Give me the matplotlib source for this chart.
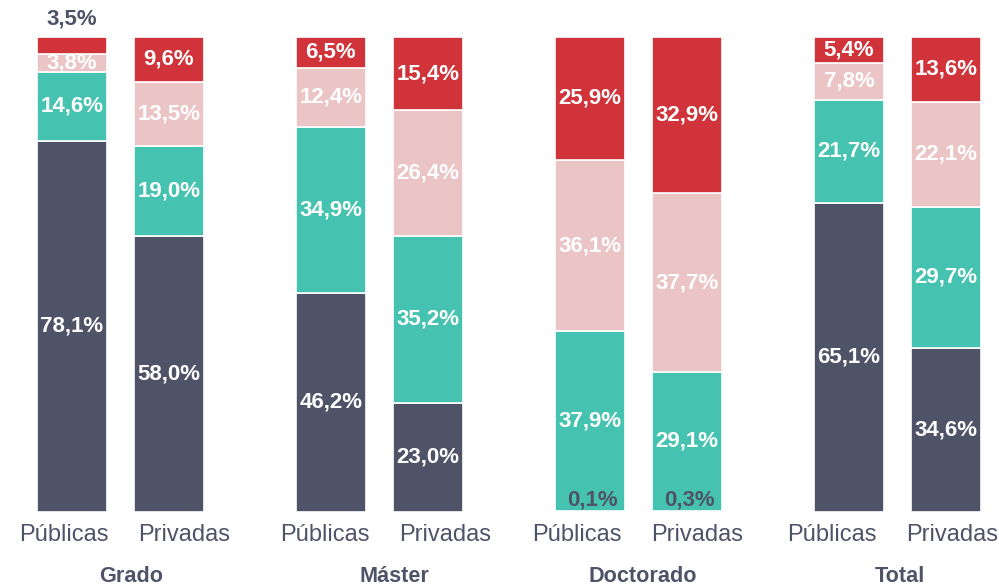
import matplotlib.pyplot as plt
import numpy as np

plt.rcParams['font.family'] = ['Liberation Sans', 'DejaVu Sans']

# data, bottom-to-top stack order
groups = ['Grado', 'Máster', 'Doctorado', 'Total']
bar_labels = ['Públicas', 'Privadas']
seg_dark = [78.1, 58.0, 46.2, 23.0, 0.1, 0.3, 65.1, 34.6]
seg_teal = [14.6, 19.0, 34.9, 35.2, 37.9, 29.1, 21.7, 29.7]
seg_pink = [3.8, 13.5, 12.4, 26.4, 36.1, 37.7, 7.8, 22.1]
seg_red = [3.5, 9.6, 6.5, 15.4, 25.9, 32.9, 5.4, 13.6]

DARK = '#4f5368'
TEAL = '#46c3b0'
PINK = '#ebc5c5'
RED = '#d0343a'

series = [(seg_dark, DARK), (seg_teal, TEAL), (seg_pink, PINK), (seg_red, RED)]

group_gap = 2.67
width = 0.72
xs = []
for g in range(len(groups)):
    xs += [g * group_gap, g * group_gap + 1]
xs = np.array(xs)

fig = plt.figure(figsize=(9.99, 5.88), dpi=100)
ax = fig.add_axes([0, 0.1293, 1, 0.8078])

VAL_FS = 16

bottoms = np.zeros(len(xs))
for vals, col in series:
    vals = np.array(vals)
    ax.bar(xs, vals, width, bottom=bottoms, color=col, edgecolor='white', linewidth=1.2)
    for x, b, v in zip(xs, bottoms, vals):
        txt = f'{v:.1f}%'.replace('.', ',')
        if v < 1:
            # tiny segments: dark label sitting just above the baseline
            ax.text(x + 0.03, 0.3, txt, ha='center', va='bottom', color=DARK,
                    fontsize=VAL_FS, fontweight='bold')
        elif v < 3.6 and col == RED:
            ax.text(x, b + v + 1.5, txt, ha='center', va='bottom', color=DARK,
                    fontsize=VAL_FS, fontweight='bold')
        else:
            ax.text(x, b + v / 2, txt, ha='center', va='center', color='white',
                    fontsize=VAL_FS, fontweight='bold')
    bottoms += vals

ax.set_xlim(-0.741, 9.556)
ax.set_ylim(0, 100)
ax.axis('off')

# labels below the bars sit a little apart from the bar centres
tick_offset = [0.04, 0.06, -0.02, -0.06]
group_offset = [0.11, 0.15, 0.04, 0.02]
for g, name in enumerate(groups):
    mid = g * group_gap + 0.5
    for k, lab in enumerate(bar_labels):
        ax.text(mid + tick_offset[g] + (k - 0.5) * 1.24, -6.1, lab, ha='center',
                va='baseline', color=DARK, fontsize=17)
    ax.text(mid + group_offset[g], -14.8, name, ha='center', va='baseline', color=DARK,
            fontsize=15.6, fontweight='bold')

fig.savefig('out.png', dpi=100)
